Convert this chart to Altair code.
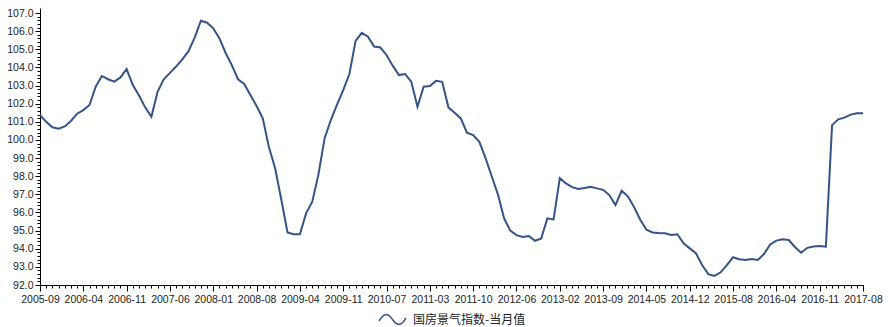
import altair as alt
import pandas as pd

SERIES_NAME = "国房景气指数-当月值"
LINE_COLOR = "#345487"

# category labels (months present in the series; Jan / Jan-Feb missing in later years)
months = (
    ["2005-09", "2005-10", "2005-11", "2005-12"]
    + ["2006-01", "2006-02", "2006-03", "2006-04", "2006-05", "2006-06", "2006-07", "2006-08", "2006-09", "2006-10", "2006-11", "2006-12"]
    + ["2007-01", "2007-02", "2007-03", "2007-04", "2007-05", "2007-06", "2007-07", "2007-08", "2007-09", "2007-10", "2007-11", "2007-12"]
    + ["2008-01", "2008-02", "2008-03", "2008-04", "2008-05", "2008-06", "2008-07", "2008-08", "2008-09", "2008-10", "2008-11", "2008-12"]
    + ["2009-02", "2009-03", "2009-04", "2009-05", "2009-06", "2009-07", "2009-08", "2009-09", "2009-10", "2009-11", "2009-12"]
    + ["2010-02", "2010-03", "2010-04", "2010-05", "2010-06", "2010-07", "2010-08", "2010-09", "2010-10", "2010-11", "2010-12"]
    + ["2011-02", "2011-03", "2011-04", "2011-05", "2011-06", "2011-07", "2011-08", "2011-09", "2011-10", "2011-11", "2011-12"]
    + ["2012-02", "2012-03", "2012-04", "2012-05", "2012-06", "2012-07", "2012-08", "2012-09", "2012-10", "2012-11", "2012-12"]
    + ["2013-02", "2013-03", "2013-04", "2013-05", "2013-06", "2013-07", "2013-08", "2013-09", "2013-10", "2013-11", "2013-12"]
    + ["2014-02", "2014-03", "2014-04", "2014-05", "2014-06", "2014-07", "2014-08", "2014-09", "2014-10", "2014-11", "2014-12"]
    + ["2015-02", "2015-03", "2015-04", "2015-05", "2015-06", "2015-07", "2015-08", "2015-09", "2015-10", "2015-11", "2015-12"]
    + ["2016-02", "2016-03", "2016-04", "2016-05", "2016-06", "2016-07", "2016-08", "2016-09", "2016-10", "2016-11", "2016-12"]
    + ["2017-03", "2017-04", "2017-05", "2017-06", "2017-07", "2017-08"]
)

values = [
    101.38, 101.00, 100.70, 100.62, 100.75, 101.05, 101.45, 101.65, 101.93, 102.94,
    103.53, 103.35, 103.22, 103.45, 103.91, 103.03, 102.45, 101.80, 101.28, 102.66,
    103.35, 103.70, 104.05, 104.45, 104.90, 105.65, 106.58, 106.47, 106.16, 105.60,
    104.80, 104.13, 103.35, 103.09, 102.48, 101.87, 101.19, 99.60, 98.44, 96.70,
    94.90, 94.80, 94.80, 95.95, 96.60, 98.10, 100.10, 101.10, 101.95, 102.75,
    103.64, 105.47, 105.91, 105.70, 105.15, 105.10, 104.69, 104.10, 103.58, 103.64,
    103.21, 101.83, 102.94, 102.98, 103.26, 103.21, 101.80, 101.50, 101.19, 100.40,
    100.27, 99.90, 99.00, 98.00, 97.00, 95.68, 95.00, 94.75, 94.65, 94.70,
    94.44, 94.57, 95.68, 95.62, 97.89, 97.60, 97.40, 97.30, 97.35, 97.42,
    97.33, 97.25, 96.96, 96.41, 97.20, 96.89, 96.30, 95.60, 95.05, 94.90,
    94.87, 94.85, 94.76, 94.80, 94.30, 94.02, 93.75, 93.10, 92.60, 92.50,
    92.70, 93.10, 93.53, 93.42, 93.38, 93.43, 93.38, 93.71, 94.24, 94.45,
    94.52, 94.48, 94.10, 93.78, 94.05, 94.12, 94.15, 94.11, 100.82, 101.14,
    101.23, 101.40, 101.47, 101.47,
]

tick_labels = [
    "2005-09", "2006-04", "2006-11", "2007-06", "2008-01", "2008-08", "2009-04",
    "2009-11", "2010-07", "2011-03", "2011-10", "2012-06", "2013-02", "2013-09",
    "2014-05", "2014-12", "2015-08", "2016-04", "2016-11", "2017-08",
]

y_major = [92, 93, 94, 95, 96, 97, 98, 99, 100, 101, 102, 103, 104, 105, 106, 107]
y_minor = [round(92 + 0.2 * i, 1) for i in range(76)]

df = pd.DataFrame({"month": months, "value": values, "series": SERIES_NAME})

x_scale = alt.Scale(type="point", padding=0)
y_scale = alt.Scale(domain=[92, 107.28], nice=False, zero=False)

LABEL_FONT = "Liberation Sans"
TEXT_COLOR = "#222222"

wave = "M-1,0.12C-0.65,-0.5,-0.35,-0.5,0,0C0.35,0.5,0.65,0.5,1,-0.12"

main = alt.Chart(df).mark_line(strokeWidth=2).encode(
    x=alt.X(
        "month:N", sort=months, scale=x_scale,
        axis=alt.Axis(
            values=tick_labels, orient="bottom", title=None, grid=False,
            tickSize=6, labelAngle=0, labelOverlap=False, labelPadding=3,
            labelFont=LABEL_FONT, labelFontSize=10.5, labelColor=TEXT_COLOR,
            domainColor="#000000", tickColor="#000000", labelFlush=False,
        ),
    ),
    y=alt.Y(
        "value:Q", scale=y_scale,
        axis=alt.Axis(
            values=y_major, format=".1f", orient="left", title=None, grid=False,
            tickSize=5, labelPadding=2, labelFont=LABEL_FONT, labelFontSize=10.5,
            labelColor=TEXT_COLOR, domainColor="#000000", tickColor="#000000",
            labelFlush=False, labelOverlap=False,
        ),
    ),
    color=alt.Color(
        "series:N",
        scale=alt.Scale(domain=[SERIES_NAME], range=[LINE_COLOR]),
        legend=alt.Legend(
            title=None, orient="none", legendX=338, legendY=297,
            symbolType=wave, symbolSize=729, symbolStrokeWidth=1.5,
            symbolFillColor="transparent", symbolStrokeColor=LINE_COLOR,
            labelFont="Noto Sans CJK SC", labelFontSize=12, labelColor=TEXT_COLOR,
            labelOffset=6, padding=0,
        ),
    ),
)

minor = alt.Chart(df).mark_line(strokeOpacity=0).encode(
    x=alt.X(
        "month:N", sort=months, scale=x_scale,
        axis=alt.Axis(
            values=months, orient="bottom", title=None, grid=False, labels=False,
            domain=False, tickSize=3, tickColor="#000000",
        ),
    ),
    y=alt.Y(
        "value:Q", scale=y_scale,
        axis=alt.Axis(
            values=y_minor, orient="left", title=None, grid=False, labels=False,
            domain=False, tickSize=3, tickColor="#000000",
        ),
    ),
)

chart = (
    alt.layer(main, minor)
    .resolve_scale(x="shared", y="shared")
    .resolve_axis(x="independent", y="independent")
    .properties(
        width=823,
        height=277,
        autosize=alt.AutoSizeParams(type="none"),
        padding={"left": 32, "top": 0, "right": 21, "bottom": 42},
    )
    .configure_view(stroke=None)
)

chart.save("out.html", embed_options={"renderer": "svg", "actions": False})
